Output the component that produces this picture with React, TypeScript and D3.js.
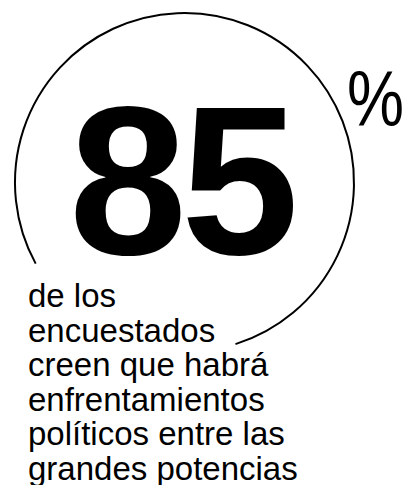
import React, { useEffect, useRef } from 'react';
import * as d3 from 'd3';

// headline figure and caption
const headlineValue = 85;
const headlineUnit = '%';
const captionLines = [
  'de los',
  'encuestados',
  'creen que habrá',
  'enfrentamientos',
  'políticos entre las',
  'grandes potencias',
];

const W = 405;
const H = 485;
const FONT = '"Liberation Sans", Arial, Helvetica, sans-serif';

export default function App() {
  const svgRef = useRef<SVGSVGElement>(null);

  useEffect(() => {
    document.body.style.margin = '0';
    if (!svgRef.current) return;
    const svg = d3.select(svgRef.current);
    svg.selectAll('*').remove();

    // ring around the number, open at lower left where the caption starts
    const cx = 184.5;
    const cy = 182.5;
    const r = 169.5;
    const deg = d3.scaleLinear().domain([0, 180]).range([0, Math.PI]);
    const ring = d3.path();
    ring.arc(cx, cy, r, deg(72.5), deg(151.4), true);

    svg.append('path')
      .attr('d', ring.toString())
      .attr('fill', 'none')
      .attr('stroke', '#000')
      .attr('stroke-width', 2);

    // big number
    svg.append('text')
      .attr('x', 181)
      .attr('y', 254)
      .attr('text-anchor', 'middle')
      .attr('font-family', FONT)
      .attr('font-weight', 700)
      .attr('font-size', 212)
      .attr('letter-spacing', -6)
      .attr('fill', '#000')
      .text(String(headlineValue));

    // unit
    svg.append('text')
      .attr('x', 347)
      .attr('y', 126)
      .attr('font-family', FONT)
      .attr('font-weight', 300)
      .attr('font-size', 78)
      .attr('textLength', 57)
      .attr('lengthAdjust', 'spacingAndGlyphs')
      .attr('fill', '#000')
      .text(headlineUnit);

    // caption
    const lineY = d3.scaleLinear()
      .domain([0, captionLines.length - 1])
      .range([307, 480]);

    svg.append('g')
      .selectAll('text')
      .data(captionLines)
      .enter()
      .append('text')
      .attr('x', 28)
      .attr('y', (_, i) => lineY(i))
      .attr('font-family', FONT)
      .attr('font-size', 33)
      .attr('fill', '#000')
      .text(d => d);
  }, []);

  return (
    <svg
      ref={svgRef}
      width={W}
      height={H}
      style={{ position: 'absolute', top: 0, left: 0, background: '#fff' }}
    />
  );
}
